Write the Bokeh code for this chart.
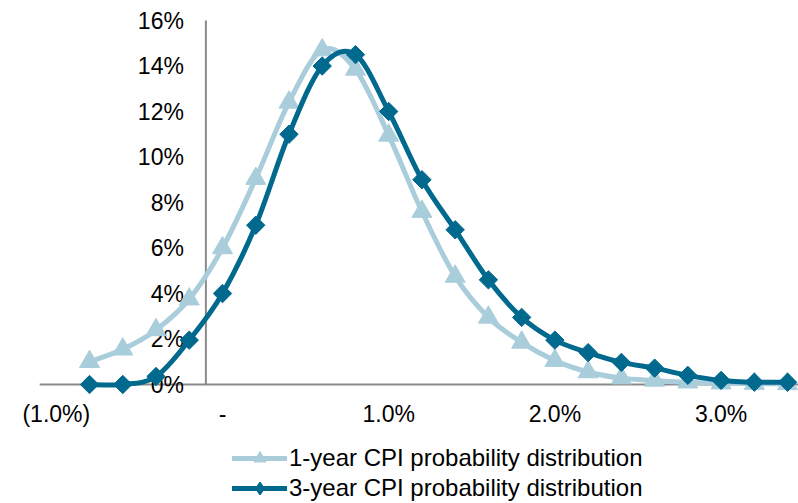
import numpy as np
from bokeh.plotting import figure
from bokeh.models import Range1d, Legend, LegendItem, ColumnDataSource
from bokeh.core.properties import value
from bokeh.embed import file_html
from bokeh.resources import INLINE

# ---------------- data ----------------
inflation = [-0.8, -0.6, -0.4, -0.2, 0.0, 0.2, 0.4, 0.6, 0.8, 1.0, 1.2,
             1.4, 1.6, 1.8, 2.0, 2.2, 2.4, 2.6, 2.8, 3.0, 3.2, 3.4]
one_year = [1.0, 1.55, 2.4, 3.75, 6.0, 9.05, 12.4, 14.7, 13.85, 10.95, 7.6,
            4.75, 2.95, 1.85, 1.05, 0.55, 0.28, 0.18, 0.1, 0.06, 0.04, 0.03]
three_year = [0.0, 0.0, 0.35, 1.95, 4.0, 7.0, 11.0, 14.0, 14.5, 12.0, 9.0,
              6.8, 4.6, 2.95, 1.95, 1.4, 0.97, 0.72, 0.4, 0.18, 0.1, 0.1]
series_names = ["1-year CPI probability distribution",
                "3-year CPI probability distribution"]
x_ticks = [-1.0, 0.0, 1.0, 2.0, 3.0]
x_tick_labels = ["(1.0%)", "-", "1.0%", "2.0%", "3.0%"]
y_ticks = [0, 2, 4, 6, 8, 10, 12, 14, 16]
y_tick_labels = ["0%", "2%", "4%", "6%", "8%", "10%", "12%", "14%", "16%"]

# ---------------- layout / style ----------------
W, H = 798, 503
X0_PX, PX_PER_X = 222.0, 166.2      # pixel of x=0, pixels per 1%
Y0_PX, PX_PER_Y = 384.0, 22.75      # pixel of y=0, pixels per 1%
AXIS_X = -0.1                       # where the vertical axis crosses
AXIS_LEFT = -1.1                    # left end of horizontal axis line
LIGHT = "#A9CDDB"
DARK = "#00698D"
AXIS_COLOR = "#8A8A8A"
FONT_NAME = "Liberation Sans"
FONT = value(FONT_NAME)
FS = "23px"
LEGEND_FS = "24px"

x_range = Range1d(-X0_PX / PX_PER_X, (W - X0_PX) / PX_PER_X)
y_range = Range1d((Y0_PX - H) / PX_PER_Y, Y0_PX / PX_PER_Y)

p = figure(width=W, height=H, x_range=x_range, y_range=y_range,
           x_axis_location=None, y_axis_location=None,
           toolbar_location=None, output_backend="svg", min_border=0)
p.grid.visible = False
p.outline_line_color = None
p.background_fill_color = "white"
p.border_fill_color = "white"

# axis lines
p.segment(x0=[AXIS_LEFT], y0=[0], x1=[x_range.end], y1=[0],
          line_color=AXIS_COLOR, line_width=2)
p.segment(x0=[AXIS_X], y0=[0], x1=[AXIS_X], y1=[max(y_ticks)],
          line_color=AXIS_COLOR, line_width=2)

# tick labels
ysrc = ColumnDataSource(dict(x=[AXIS_X] * len(y_ticks), y=y_ticks, t=y_tick_labels))
p.text(x="x", y="y", text="t", source=ysrc, x_offset=-22,
       text_align="right", text_baseline="middle",
       text_font=FONT, text_font_size=FS, text_color="black")
xsrc = ColumnDataSource(dict(x=x_ticks, y=[0] * len(x_ticks), t=x_tick_labels))
p.text(x="x", y="y", text="t", source=xsrc, y_offset=29,
       text_align="center", text_baseline="middle",
       text_font=FONT, text_font_size=FS, text_color="black")


def smooth_source(xs, ys):
    """Catmull-Rom style cubic Bezier segments through the data points."""
    x = np.asarray(xs, float)
    y = np.asarray(ys, float)
    n = len(x)
    xp = np.concatenate([[x[0]], x, [x[-1]]])
    yp = np.concatenate([[y[0]], y, [y[-1]]])
    return ColumnDataSource(dict(
        x0=x[:-1], y0=y[:-1], x1=x[1:], y1=y[1:],
        cx0=x[:-1] + (xp[2:n + 1] - xp[0:n - 1]) / 6.0,
        cy0=y[:-1] + (yp[2:n + 1] - yp[0:n - 1]) / 6.0,
        cx1=x[1:] - (xp[3:n + 2] - xp[1:n]) / 6.0,
        cy1=y[1:] - (yp[3:n + 2] - yp[1:n]) / 6.0,
    ))


b1 = p.bezier(x0="x0", y0="y0", x1="x1", y1="y1", cx0="cx0", cy0="cy0",
              cx1="cx1", cy1="cy1", source=smooth_source(inflation, one_year),
              line_color=LIGHT, line_width=5, line_cap="round")
s1 = p.scatter(inflation, one_year, marker="triangle", size=20,
               fill_color=LIGHT, line_color=LIGHT)
b3 = p.bezier(x0="x0", y0="y0", x1="x1", y1="y1", cx0="cx0", cy0="cy0",
              cx1="cx1", cy1="cy1", source=smooth_source(inflation, three_year),
              line_color=DARK, line_width=5, line_cap="round")
s3 = p.scatter(inflation, three_year, marker="square", angle=np.pi / 4, size=13,
               fill_color=DARK, line_color=DARK)

# legend-only marker (diamond shape, since angle is not applied in legends);
# a single NaN point so nothing is drawn on the plot itself
d3 = p.scatter(x=[np.nan], y=[np.nan], marker="diamond", size=13,
               fill_color=DARK, line_color=DARK, line_width=1.5)

legend = Legend(items=[LegendItem(label=series_names[0], renderers=[b1, s1]),
                       LegendItem(label=series_names[1], renderers=[b3, d3])],
                location=(232, 0), orientation="vertical",
                glyph_width=55, glyph_height=30, label_height=30,
                label_standoff=2, padding=0, margin=0, spacing=0,
                border_line_color=None, background_fill_alpha=0,
                label_text_font=FONT_NAME, label_text_font_size=LEGEND_FS,
                label_text_color="black")
p.add_layout(legend)

open("out.html", "w").write(file_html(p, INLINE))
